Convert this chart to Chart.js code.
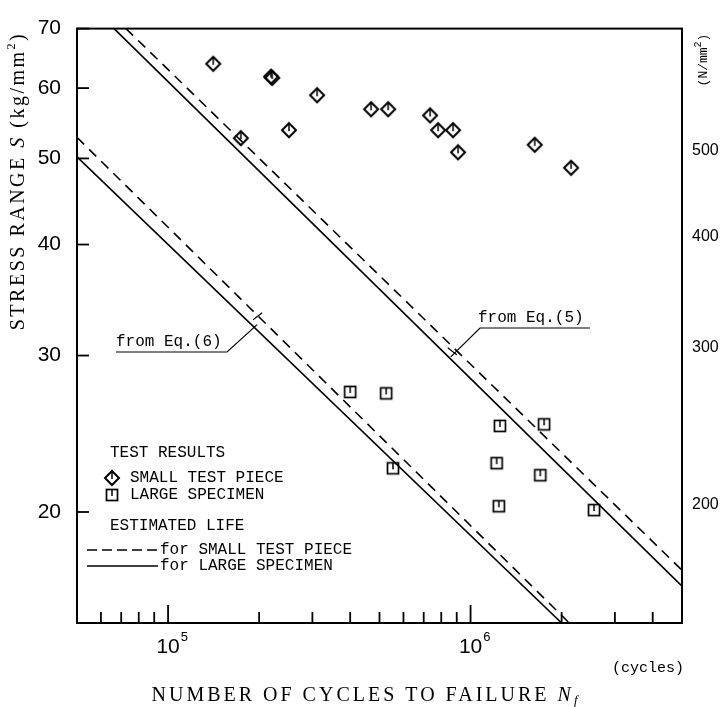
<!DOCTYPE html>
<html>
<head>
<meta charset="utf-8">
<script src="https://cdn.jsdelivr.net/npm/chart.js@4"></script>
<style>
  html, body { margin: 0; background: #fff; }
  #wrap { width: 724px; height: 707px; }
</style>
</head>
<body>
<div id="wrap"><canvas id="c"></canvas></div>
<script>
// cycles to failure / stress range (kg/mm2)
const smallN = [1.41e5, 1.74e5, 2.19e5, 2.21e5, 2.51e5, 3.11e5, 4.69e5, 5.34e5, 7.35e5, 7.81e5, 8.75e5, 9.09e5, 1.63e6, 2.15e6];
const smallS = [63.9, 52.7, 61.8, 61.6, 53.8, 58.9, 56.8, 56.8, 55.9, 53.8, 53.8, 50.8, 51.8, 48.8];
const largeN = [4.0e5, 5.26e5, 5.54e5, 1.25e6, 1.75e6, 1.22e6, 1.70e6, 1.24e6, 2.56e6];
const largeS = [27.3, 27.2, 22.4, 25.0, 25.1, 22.7, 22.0, 20.3, 20.1];

// estimated life lines (end points)
const eq5SmallN = [7.26e4, 5e6], eq5SmallS = [70, 17.2];
const eq5LargeN = [6.63e4, 5e6], eq5LargeS = [70, 16.5];
const eq6SmallN = [5e4, 2.12e6], eq6SmallS = [52.8, 15];
const eq6LargeN = [5e4, 2.0e6], eq6LargeS = [50.2, 15];

const xTicks = [6e4, 7e4, 8e4, 9e4, 1e5, 2e5, 3e5, 4e5, 5e5, 6e5, 7e5, 8e5, 9e5, 1e6, 2e6, 3e6, 4e6];
const xMajor = [1e5, 1e6];
const xExp = ['5', '6'];
const yTicks = [20, 30, 40, 50, 60, 70];
const y2Ticks = [200, 300, 400, 500];
const G = 9.80665; // kg/mm2 -> N/mm2

const pts = (xs, ys) => xs.map((v, i) => ({ x: v, y: ys[i] }));

function makeMarker(kind) {
  const c = document.createElement('canvas');
  c.width = 18; c.height = 18;
  const g = c.getContext('2d');
  g.strokeStyle = '#000';
  if (kind === 'diamond') {
    g.lineWidth = 2;
    g.beginPath(); g.moveTo(9, 2); g.lineTo(16, 9); g.lineTo(9, 16); g.lineTo(2, 9); g.closePath(); g.stroke();
    g.lineWidth = 1.5;
    g.beginPath(); g.moveTo(9, 2); g.lineTo(9, 10); g.stroke();
  } else {
    g.lineWidth = 1.7;
    g.strokeRect(3.5, 3.5, 11, 11);
    g.lineWidth = 1.5;
    g.beginPath(); g.moveTo(9, 3.5); g.lineTo(9, 10); g.stroke();
  }
  return c;
}
const diamondImg = makeMarker('diamond');
const squareImg = makeMarker('square');

const MONO = '"Liberation Mono", "DejaVu Sans Mono", monospace';
const SERIF = '"Liberation Serif", "DejaVu Serif", serif';
const NARROW = '"Liberation Sans Narrow", "Liberation Sans", sans-serif';

function drawRuns(ctx, runs, cx, cy) {
  let w = 0;
  runs.forEach(r => { ctx.font = r.font; w += ctx.measureText(r.t).width; });
  let x = cx - w / 2;
  runs.forEach(r => {
    ctx.font = r.font;
    ctx.fillText(r.t, x, cy + (r.dy || 0));
    x += ctx.measureText(r.t).width;
  });
}

const decor = {
  id: 'decor',
  beforeDraw(chart) {
    const ctx = chart.ctx;
    ctx.save();
    ctx.fillStyle = '#fff';
    ctx.fillRect(0, 0, chart.width, chart.height);
    ctx.restore();
  },
  afterDraw(chart) {
    const { ctx, chartArea: a, scales: { x, y } } = chart;
    ctx.save();
    ctx.strokeStyle = '#000';
    ctx.fillStyle = '#000';

    // frame
    ctx.lineWidth = 2;
    ctx.strokeRect(a.left, a.top, a.right - a.left, a.bottom - a.top);

    // inner ticks
    ctx.lineWidth = 1.8;
    yTicks.forEach(v => {
      const py = y.getPixelForValue(v);
      ctx.beginPath(); ctx.moveTo(a.left, py); ctx.lineTo(a.left + 12, py); ctx.stroke();
    });
    xTicks.forEach(v => {
      const px = x.getPixelForValue(v);
      const len = xMajor.includes(v) ? 18 : 11;
      ctx.beginPath(); ctx.moveTo(px, a.bottom); ctx.lineTo(px, a.bottom - len); ctx.stroke();
    });

    // x tick labels 10^n
    ctx.textBaseline = 'middle';
    ctx.textAlign = 'left';
    xMajor.forEach((v, i) => {
      const px = x.getPixelForValue(v);
      ctx.font = '21px ' + NARROW;
      const w = ctx.measureText('10').width;
      ctx.fillText('10', px - w / 2, a.bottom + 24);
      ctx.font = '13px ' + NARROW;
      ctx.fillText(xExp[i], px + w / 2 + 1, a.bottom + 14);
    });

    // axis titles
    ctx.letterSpacing = '2.5px';
    const big = '20px ' + SERIF;
    const bigI = 'italic 20px ' + SERIF;
    ctx.save();
    ctx.translate(19, 181);
    ctx.rotate(-Math.PI / 2);
    drawRuns(ctx, [
      { t: 'STRESS RANGE ', font: big },
      { t: 'S', font: bigI },
      { t: ' (kg/mm', font: big },
      { t: '2', font: '12px ' + SERIF, dy: -7 },
      { t: ')', font: big }
    ], 0, 0);
    ctx.restore();
    ctx.letterSpacing = '3px';
    drawRuns(ctx, [
      { t: 'NUMBER OF CYCLES TO FAILURE ', font: big },
      { t: 'N', font: bigI },
      { t: 'f', font: 'italic 13px ' + SERIF, dy: 5 }
    ], 366, 696);
    ctx.letterSpacing = '0px';

    ctx.font = '15px ' + MONO;
    ctx.textAlign = 'center';
    ctx.fillText('(cycles)', 648, 668);

    // right axis unit
    ctx.save();
    ctx.translate(704, 60);
    ctx.rotate(-Math.PI / 2);
    ctx.textAlign = 'left';
    drawRuns(ctx, [
      { t: '(N/mm', font: '13px ' + MONO },
      { t: '2', font: '10px ' + MONO, dy: -6 },
      { t: ')', font: '13px ' + MONO }
    ], 0, 0);
    ctx.restore();

    // legend
    ctx.font = '16px ' + MONO;
    ctx.textAlign = 'left';
    ctx.fillText('TEST RESULTS', 110, 453);
    ctx.drawImage(diamondImg, 103, 469);
    ctx.fillText('SMALL TEST PIECE', 130, 478);
    ctx.drawImage(squareImg, 103, 486);
    ctx.fillText('LARGE SPECIMEN', 130, 495);
    ctx.fillText('ESTIMATED LIFE', 110, 526);
    ctx.lineWidth = 1.6;
    ctx.setLineDash([10, 5]);
    ctx.beginPath(); ctx.moveTo(87, 550); ctx.lineTo(158, 550); ctx.stroke();
    ctx.setLineDash([]);
    ctx.fillText('for SMALL TEST PIECE', 160, 550);
    ctx.beginPath(); ctx.moveTo(87, 566); ctx.lineTo(158, 566); ctx.stroke();
    ctx.fillText('for LARGE SPECIMEN', 160, 566);

    // callouts
    ctx.lineWidth = 1.2;
    const e6x = x.getPixelForValue(1.97e5), e6y = y.getPixelForValue(32.5);
    ctx.fillText('from Eq.(6)', 116, 342);
    ctx.beginPath(); ctx.moveTo(116, 352); ctx.lineTo(227, 352); ctx.lineTo(e6x, e6y); ctx.stroke();
    ctx.beginPath(); ctx.moveTo(e6x - 4, e6y - 5); ctx.lineTo(e6x + 5, e6y - 12); ctx.stroke();

    const e5x = x.getPixelForValue(8.6e5), e5y = y.getPixelForValue(29.9);
    ctx.fillText('from Eq.(5)', 478, 318);
    ctx.beginPath(); ctx.moveTo(590, 328); ctx.lineTo(480, 328); ctx.lineTo(e5x, e5y); ctx.stroke();
    ctx.beginPath(); ctx.moveTo(e5x - 3, e5y - 9); ctx.lineTo(e5x + 6, e5y - 2); ctx.stroke();

    ctx.restore();
  }
};

const lineStyle = (dashed) => ({
  type: 'line',
  showLine: true,
  borderColor: '#000',
  borderWidth: 1.6,
  borderDash: dashed ? [10, 7] : [],
  pointRadius: 0,
  fill: false,
  tension: 0
});

new Chart(document.getElementById('c'), {
  type: 'scatter',
  data: {
    datasets: [
      { label: 'SMALL TEST PIECE', data: pts(smallN, smallS), pointStyle: diamondImg },
      { label: 'LARGE SPECIMEN', data: pts(largeN, largeS), pointStyle: squareImg },
      { label: 'Eq.(5) small', data: pts(eq5SmallN, eq5SmallS), ...lineStyle(true) },
      { label: 'Eq.(5) large', data: pts(eq5LargeN, eq5LargeS), ...lineStyle(false) },
      { label: 'Eq.(6) small', data: pts(eq6SmallN, eq6SmallS), ...lineStyle(true) },
      { label: 'Eq.(6) large', data: pts(eq6LargeN, eq6LargeS), ...lineStyle(false) }
    ]
  },
  options: {
    responsive: true,
    maintainAspectRatio: false,
    animation: false,
    events: [],
    layout: { padding: { top: 19, left: 0, right: 0, bottom: 0 } },
    plugins: { legend: { display: false }, tooltip: { enabled: false } },
    scales: {
      x: {
        type: 'logarithmic',
        position: 'bottom',
        min: 5e4,
        max: 5e6,
        afterBuildTicks: s => { s.ticks = xTicks.map(v => ({ value: v })); },
        afterFit: s => { s.height = 84; },
        ticks: { display: false },
        grid: { display: false, drawTicks: false },
        border: { display: false }
      },
      y: {
        type: 'logarithmic',
        position: 'left',
        min: 15,
        max: 70,
        afterBuildTicks: s => { s.ticks = yTicks.map(v => ({ value: v })); },
        afterFit: s => { s.width = 77; },
        ticks: {
          padding: 16,
          color: '#000',
          font: { family: NARROW, size: 21 },
          callback: v => String(v)
        },
        grid: { display: false, drawTicks: false },
        border: { display: false }
      },
      y2: {
        type: 'logarithmic',
        position: 'right',
        min: 15 * G,
        max: 70 * G,
        afterBuildTicks: s => { s.ticks = y2Ticks.map(v => ({ value: v })); },
        afterFit: s => { s.width = 42; },
        ticks: {
          padding: 10,
          color: '#000',
          font: { family: NARROW, size: 16 },
          callback: v => String(v)
        },
        grid: { display: false, drawTicks: false },
        border: { display: false }
      }
    }
  },
  plugins: [decor]
});
</script>
</body>
</html>
